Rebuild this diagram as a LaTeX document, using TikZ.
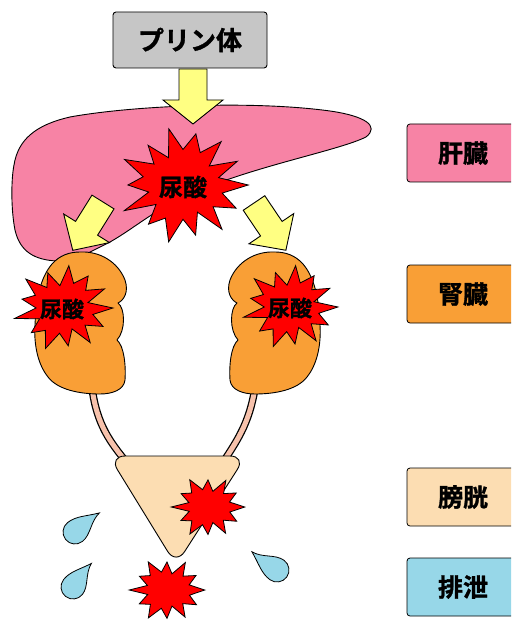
\documentclass[tikz,border=0pt]{standalone}
\usepackage{fontspec}
\newfontfamily\jpb[FakeBold=1.2]{Noto Sans CJK JP Bold}
\usetikzlibrary{calc}

\definecolor{liverpink}{HTML}{F783A5}
\definecolor{kidneyorange}{HTML}{F99F36}
\definecolor{bladderpeach}{HTML}{FCDDB2}
\definecolor{dropblue}{HTML}{97D7E8}
\definecolor{boxgray}{HTML}{C6C6C6}
\definecolor{arrowyellow}{HTML}{FFFF82}
\definecolor{ureterpink}{HTML}{F7C2AC}

\tikzset{
  organ/.style={draw=black, line width=0.9pt, line join=round},
  burst/.style={draw=black, fill=red, line width=0.8pt, line join=miter},
  blockarrow/.style={draw=black, fill=arrowyellow, line width=0.9pt, line join=miter},
  legend/.style={draw=black, line width=0.8pt, rounded corners=3pt},
  legendtext/.style={font=\jpb\fontsize{25}{25}\selectfont, inner sep=0pt},
  uric/.style={font=\jpb\fontsize{#1}{#1}\selectfont, inner sep=0pt},
  drop/.style={draw=black, fill=dropblue, line width=0.8pt},
}

% spiky burst: name, centre, x radius, y radius, number of spikes
\newcommand\spiky[5]{%
  \coordinate (#1) at #2;
  \begin{scope}[shift={#2}]
    \draw[burst] (0:{#3*1.02} and {#4*1.02})
      \foreach \k in {1,...,\numexpr 2*#5-1\relax}{
        -- ({\k*180/#5}:{#3*(mod(\k,2)==0 ? 0.94+0.08*sin(\k*97) : 0.58+0.06*sin(\k*53))}
                   and {#4*(mod(\k,2)==0 ? 0.94+0.08*sin(\k*97) : 0.58+0.06*sin(\k*53))})
      } -- cycle;
  \end{scope}}

% block arrow: start of shaft, direction angle, length, shaft half width, head half width, head length
\newcommand\blockarrow[6]{%
  \begin{scope}[shift={#1}, rotate=#2]
    \draw[blockarrow] (0,-#4) -- ({#3-#6},-#4) -- ({#3-#6},-#5) -- (#3,0)
      -- ({#3-#6},#5) -- ({#3-#6},#4) -- (0,#4) -- cycle;
  \end{scope}}

% water drop: body centre, tip direction, tip distance, body radius
\newcommand\waterdrop[4]{%
  \begin{scope}[shift={#1}, rotate=#2]
    \draw[drop] (#3,0) .. controls ({0.6*#3},{0.1*#4}) and ({0.35*#3},{#4}) .. (0,#4)
      .. controls ({-0.552*#4},#4) and (-#4,{0.552*#4}) .. (-#4,0)
      .. controls (-#4,{-0.552*#4}) and ({-0.552*#4},-#4) .. (0,-#4)
      .. controls ({0.35*#3},-#4) and ({0.6*#3},{-0.45*#4}) .. (#3,0) -- cycle;
  \end{scope}}

% kidney outline (left kidney; the right one is its mirror image)
\newcommand\kidneypath{%
  (80,252) .. controls (100,251) and (118,262) .. (125,280)
  .. controls (129,292) and (124,300) .. (118,303)
  .. controls (125,308) and (126,330) .. (117,340)
  .. controls (124,346) and (126,365) .. (125,380)
  .. controls (124,390) and (112,394) .. (100,394)
  .. controls (80,394) and (58,390) .. (48,377)
  .. controls (36,362) and (34,340) .. (35,325)
  .. controls (36,300) and (40,278) .. (52,264)
  .. controls (60,255) and (70,252) .. (80,252) -- cycle}

\begin{document}
\begin{tikzpicture}[x=1pt, y=-1pt]
  \useasboundingbox (0,0) rectangle (511,620);
  \clip (0,0) rectangle (511,620);

  % purine box
  \node[draw=black, fill=boxgray, line width=0.9pt, rounded corners=3pt,
        minimum width=154pt, minimum height=56pt, inner sep=0pt,
        font=\jpb\fontsize{26}{26}\selectfont] (purine) at (190,40) {プリン体};

  % liver
  \draw[organ, fill=liverpink]
    (57,261) .. controls (35,260) and (20,252) .. (15,230)
    .. controls (11,210) and (11,180) .. (14,165)
    .. controls (18,140) and (35,125) .. (70,117)
    .. controls (130,106) and (250,100) .. (330,111)
    .. controls (365,116) and (380,126) .. (366,137)
    .. controls (340,150) and (260,165) .. (200,190)
    .. controls (160,205) and (135,228) .. (110,242)
    .. controls (90,252) and (75,261) .. (57,261) -- cycle;

  % ureters
  \foreach \u in {
      {(92,388) .. controls (97,425) and (110,442) .. (128,464)},
      {(255,388) .. controls (249,425) and (236,442) .. (222,464)}}{
    \draw[black, line width=7.5pt, line cap=butt] \u;
    \draw[ureterpink, line width=5pt, line cap=butt] \u;
  }

  % bladder
  \draw[organ, fill=bladderpeach, rounded corners=16pt]
    (109,456) -- (246,456) -- (176,565) -- cycle;

  % kidneys
  \draw[organ, fill=kidneyorange] \kidneypath;
  \begin{scope}[shift={(355,0)}, xscale=-1]
    \draw[organ, fill=kidneyorange] \kidneypath;
  \end{scope}

  % yellow arrows
  \blockarrow{(193,69)}{-90}{55}{14}{30}{24}
  \blockarrow{(103,202)}{-122}{57}{13}{27}{26}
  \blockarrow{(254,203)}{-56}{57}{13}{27}{26}

  % uric acid bursts
  \spiky{bliver}{(183,185)}{64}{58}{14}
  \node[uric=24] (uliver) at (183,187) {尿酸};
  \spiky{bkidl}{(63,308)}{49}{43}{13}
  \node[uric=22] (ukidl) at (62,309) {尿酸};
  \spiky{bkidr}{(290,307)}{47}{42}{13}
  \node[uric=22] (ukidr) at (290,308) {尿酸};
  \spiky{bblad}{(208,507)}{36}{31}{12}
  \spiky{bout}{(167,590)}{37}{32}{12}

  % drops
  \waterdrop{(75,532)}{38}{31}{12}
  \waterdrop{(73,587)}{52}{30}{12}
  \waterdrop{(277,570)}{144}{31}{12}

  % legend
  \draw[legend, fill=liverpink]    (407,124) rectangle (530,182);
  \node[legendtext] (lliver) at (463,153) {肝臓};
  \draw[legend, fill=kidneyorange] (407,265) rectangle (530,323);
  \node[legendtext] (lkid) at (463,294) {腎臓};
  \draw[legend, fill=bladderpeach] (407,468) rectangle (530,526);
  \node[legendtext] (lblad) at (463,497) {膀胱};
  \draw[legend, fill=dropblue]     (407,558) rectangle (530,616);
  \node[legendtext] (lexc) at (463,587) {排泄};
\end{tikzpicture}
\end{document}
